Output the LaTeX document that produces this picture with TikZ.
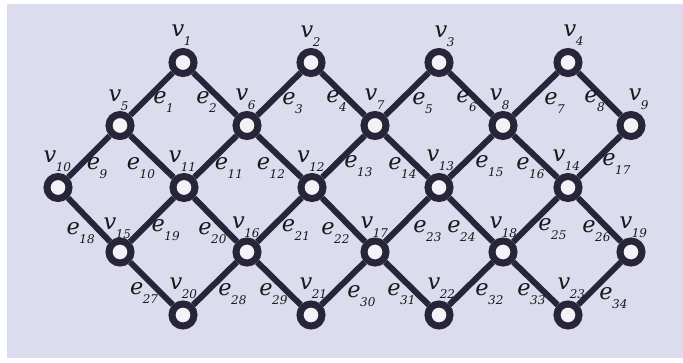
\documentclass[tikz,border=0pt]{standalone}
\usepackage{fontspec}
\newfontfamily\labfont{DejaVu Serif}
\definecolor{bg}{RGB}{219,220,237}
\definecolor{ink}{RGB}{40,37,58}
\definecolor{nodefill}{RGB}{244,242,246}
\tikzset{
  vert/.style={circle, draw=ink, line width=7pt, fill=nodefill, minimum size=22pt, inner sep=0pt},
  edg/.style={draw=ink, line width=6pt},
  lab/.style={anchor=base, inner sep=0pt, text=black!90}
}
\newcommand\lbtxt[2]{\labfont\itshape\fontsize{22.5}{22.5}\selectfont #1\rlap{\kern-0.5pt\raisebox{-9pt}{\fontsize{12}{12}\selectfont #2}}}
\begin{document}
\begin{tikzpicture}[x=1pt,y=-1pt]
\useasboundingbox (0,0) rectangle (683,363);
\fill[white] (0,0) rectangle (683,363);
\fill[bg] (7,4.5) rectangle (683,358.5);
% vertices
\foreach \n/\x/\y in {
  1/183/62.5, 2/311/62.5, 3/439/62.5, 4/568/62.5,
  5/120/125.5, 6/247/125.5, 7/375/125.5, 8/503/125.5, 9/631/125.5,
  10/58/187.5, 11/184/187.5, 12/312/187.5, 13/439/187.5, 14/568/187.5,
  15/120/252, 16/247/252, 17/375/252, 18/503/252, 19/631/252,
  20/183/315, 21/311/315, 22/439/315, 23/568/315}
  \node[vert] (v\n) at (\x,\y) {};
% edges
\foreach \a/\b in {
  5/1, 1/6, 6/2, 2/7, 7/3, 3/8, 8/4, 4/9,
  10/5, 5/11, 11/6, 6/12, 12/7, 7/13, 13/8, 8/14, 14/9,
  10/15, 15/11, 11/16, 16/12, 12/17, 17/13, 13/18, 18/14, 14/19,
  15/20, 20/16, 16/21, 21/17, 17/22, 22/18, 18/23, 23/19}
  \draw[edg] (v\a) -- (v\b);
% vertex labels
\foreach \n/\x/\y in {
  1/178/30.5, 2/307/31.5, 3/441/31.5, 4/570/30.5,
  5/115/96, 6/242/95, 7/371/95, 8/496/95, 9/635/95,
  10/50/156.5, 11/175/156.5, 12/303.5/156.5, 13/433/156, 14/559/156,
  15/110/224, 16/238.5/223, 17/367/222.5, 18/496/222.5, 19/626/222.5,
  20/176/283.5, 21/306/283.5, 22/434/283.5, 23/564/283.5}
  \node[lab] (lv\n) at (\x,\y+6) {\lbtxt{v}{\n}};
% edge labels
\foreach \n/\x/\y in {
  1/160/98, 2/203/98, 3/289/98.3, 4/333/96.7, 5/419/98.3, 6/463/96.7, 7/551/98.3, 8/591/96.7,
  9/93.5/164, 10/133.5/163.5, 11/221.5/164, 12/263.5/164, 13/351/161.5, 14/395/163.3, 15/482/161.7, 16/523/163.3, 17/609/160,
  18/73.3/228.3, 19/158.3/226, 20/205/228.3, 21/288.5/226, 22/328/229, 23/420/226.7, 24/454/226.7, 25/545/225, 26/589/226.7,
  27/136.7/288.3, 28/225/290, 29/266/290, 30/354/291.7, 31/394/290, 32/482/290, 33/524/290, 34/606/293.3}
  \node[lab] (le\n) at (\x,\y+6) {\lbtxt{e}{\n}};
\end{tikzpicture}
\end{document}
